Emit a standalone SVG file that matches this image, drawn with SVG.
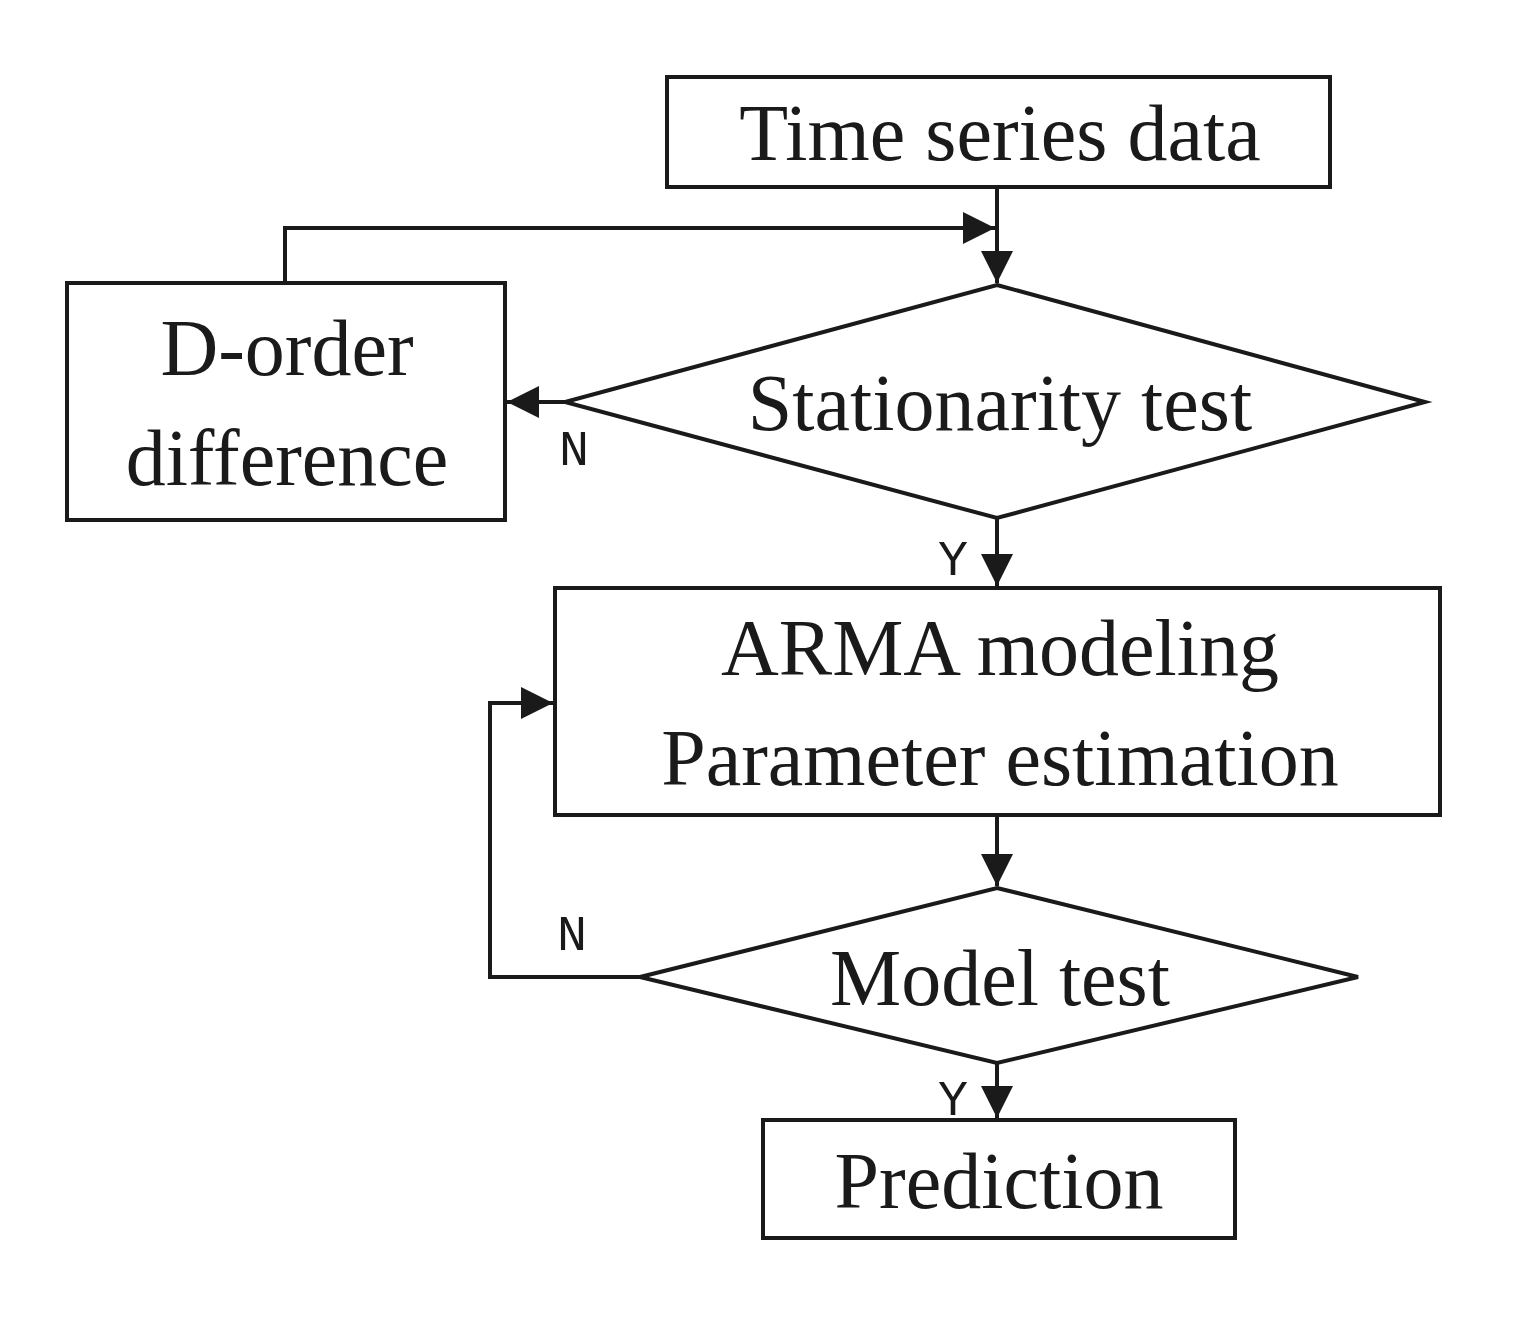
<svg xmlns="http://www.w3.org/2000/svg" width="1513" height="1320" viewBox="0 0 1513 1320">
<style>
.b{fill:#fff;stroke:#1a1a1a;stroke-width:4}
.t{font-family:"Liberation Serif",serif;font-size:80px;fill:#1a1a1a;text-anchor:middle}
.l{font-family:"Liberation Mono",monospace;font-size:50px;fill:#1a1a1a;text-anchor:middle}
.c{fill:none;stroke:#1a1a1a;stroke-width:4}
</style>
<defs><marker id="a" viewBox="0 0 10 10" refX="10" refY="5" markerWidth="9" markerHeight="9" markerUnits="userSpaceOnUse" orient="auto"><path d="M0,0L10,5L0,10z" fill="#1a1a1a"/></marker>
<marker id="m" viewBox="0 0 10 10" refX="10" refY="5" markerWidth="8" markerHeight="8" orient="auto"><path d="M0,0L10,5L0,10z" fill="#1a1a1a"/></marker></defs>
<rect width="1513" height="1320" fill="#fff"/>
<g id="connectors">
<path class="c" d="M997,187V283" marker-end="url(#m)"/>
<path class="c" d="M285,283V228H995" marker-end="url(#m)"/>
<path class="c" d="M565,402H507" marker-end="url(#m)"/>
<path class="c" d="M997,518V586" marker-end="url(#m)"/>
<path class="c" d="M997,815V886" marker-end="url(#m)"/>
<path class="c" d="M640,977H490V703H553" marker-end="url(#m)"/>
<path class="c" d="M997,1063V1118" marker-end="url(#m)"/>
<text class="l" x="574" y="465">N</text>
<text class="l" x="953" y="575">Y</text>
<text class="l" x="572" y="950">N</text>
<text class="l" x="953" y="1115">Y</text>
</g>
<g id="n1"><rect class="b" x="667" y="77" width="663" height="110"/><text class="t" x="1000" y="160">Time series data</text></g>
<g id="n2"><path class="b" d="M997,285L1425,402L997,518L565,402Z"/><text class="t" x="1000" y="430">Stationarity test</text></g>
<g id="n3"><rect class="b" x="67" y="283" width="438" height="237"/><text class="t" x="287" y="375">D-order</text><text class="t" x="287" y="485">difference</text></g>
<g id="n4"><rect class="b" x="555" y="588" width="885" height="227"/><text class="t" x="1000" y="675">ARMA modeling</text><text class="t" x="1000" y="785">Parameter estimation</text></g>
<g id="n5"><path class="b" d="M997,888L1358,977L997,1063L640,977Z"/><text class="t" x="1000" y="1005">Model test</text></g>
<g id="n6"><rect class="b" x="763" y="1120" width="472" height="118"/><text class="t" x="999" y="1208">Prediction</text></g>
</svg>
